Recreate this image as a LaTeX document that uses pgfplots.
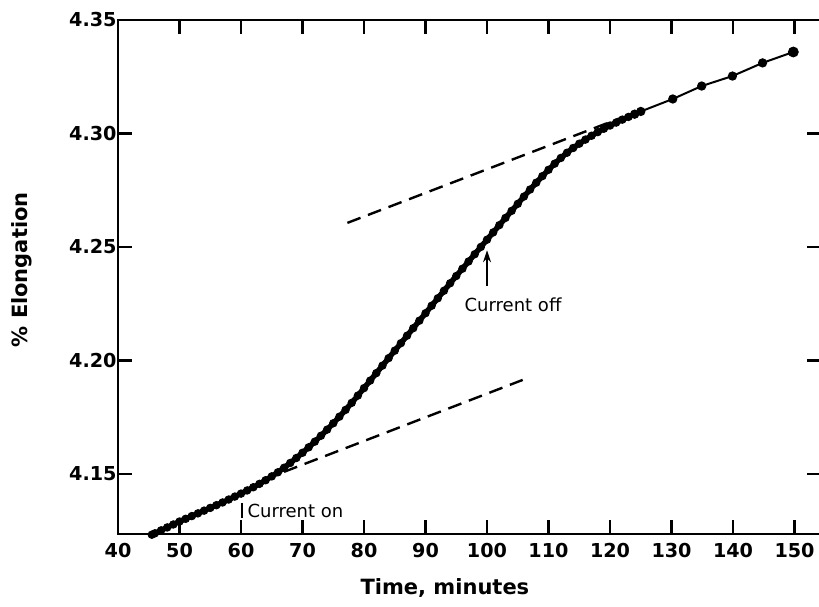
\documentclass[border=0pt]{standalone}
\usepackage{fontspec}
\setmainfont{DejaVu Sans}
\usepackage{pgfplots}
\pgfplotsset{compat=1.18}
\usepackage{pgfplotstable}
\usetikzlibrary{arrows.meta}

% Dense record while the current is flowing (readings about once a minute)
\pgfplotstableread{
t     e
45.5  4.1232
46    4.1238
47    4.1251
48    4.1264
49    4.1277
50    4.1290
51    4.1302
52    4.1314
53    4.1326
54    4.1338
55    4.1350
56    4.1362
57    4.1374
58    4.1387
59    4.1400
60    4.1413
61    4.1427
62    4.1441
63    4.1456
64    4.1472
65    4.1489
66    4.1507
67    4.1527
68    4.1548
69    4.1570
70    4.1593
71    4.1617
72    4.1642
73    4.1668
74    4.1695
75    4.1723
76    4.1752
77    4.1782
78    4.1813
79    4.1845
80    4.1878
81    4.1911
82    4.1944
83    4.1977
84    4.2010
85    4.2043
86    4.2076
87    4.2109
88    4.2142
89    4.2175
90    4.2208
91    4.2241
92    4.2274
93    4.2307
94    4.2340
95    4.2372
96    4.2404
97    4.2436
98    4.2468
99    4.2500
100   4.2532
101   4.2564
102   4.2596
103   4.2628
104   4.2659
105   4.2690
106   4.2722
107   4.2753
108   4.2783
109   4.2812
110   4.2840
111   4.2867
112   4.2892
113   4.2915
114   4.2936
115   4.2955
116   4.2973
117   4.2990
118   4.3006
119   4.3021
120   4.3035
121   4.3048
122   4.3061
123   4.3073
124   4.3085
}\dense

% Sparse readings after the current has been switched off
\pgfplotstableread{
t     e
124   4.3085
125   4.3097
130.2 4.3152
134.9 4.3209
139.9 4.3253
144.8 4.3311
149.8 4.3359
}\sparse

\begin{document}
\begin{tikzpicture}
\begin{axis}[
  scale only axis,
  width=351.5pt, height=257pt,
  xmin=40, xmax=154.3,
  ymin=4.1235, ymax=4.35,
  clip=false,
  axis line style={line width=1.3pt},
  tick style={line width=1.3pt, black},
  major tick length=7pt,
  tick align=inside,
  xtick={40,50,...,150},
  ytick={4.15,4.20,4.25,4.30,4.35},
  /pgf/number format/assume math mode=true,
  xticklabel style={font=\bfseries\fontsize{9.6}{11}\selectfont, inner sep=2pt, yshift=-2.5pt},
  yticklabel style={font=\bfseries\fontsize{9.6}{11}\selectfont, inner sep=0.5pt,
    /pgf/number format/.cd, fixed, fixed zerofill, precision=2},
  xlabel={Time,\ minutes},
  ylabel={\% Elongation},
  xlabel style={font=\bfseries\fontsize{10.5}{12}\selectfont,
    at={(axis description cs:0.465,0)}, anchor=center, yshift=-27pt},
  ylabel style={font=\bfseries\fontsize{10.5}{12}\selectfont,
    at={(axis description cs:-0.1366,0.514)}, anchor=center},
]
% tangents to the initial and final creep rates
\addplot[black, line width=1.2pt, dash pattern=on 7pt off 4pt]
  coordinates {(67,4.1509) (105.8,4.1914)};
\addplot[black, line width=1.2pt, dash pattern=on 7pt off 4pt]
  coordinates {(77.3,4.2606) (121.7,4.3068)};

% elongation curve
\addplot[black, line width=2.7pt, mark=*, mark size=1.85pt,
  mark options={fill=black, line width=0.5pt}] table[x=t, y=e] {\dense};
\addplot[black, line width=1pt, mark=*, mark size=1.8pt,
  mark options={fill=black}] table[x=t, y=e] {\sparse};
\addplot[black, only marks, mark=*, mark size=2.5pt,
  mark options={fill=black}] coordinates {(149.8,4.3359)};

% annotations
\draw[black, line width=0.8pt, -{Stealth[length=6pt,width=4pt]}]
  (axis cs:100,4.2327) -- (axis cs:100,4.2485);
\node[anchor=west, inner sep=0pt, font=\fontsize{9}{10}\selectfont]
  at (axis cs:96.3,4.2244) {Current off};
\draw[black, line width=0.9pt] (axis cs:60.2,4.1372) -- (axis cs:60.2,4.1306);
\node[anchor=west, inner sep=0pt, font=\fontsize{9}{10}\selectfont]
  at (axis cs:61.0,4.1336) {Current on};
\end{axis}
\pgfresetboundingbox
\path (-59pt,-36pt) rectangle (350.5pt,267pt);
\end{tikzpicture}
\end{document}
